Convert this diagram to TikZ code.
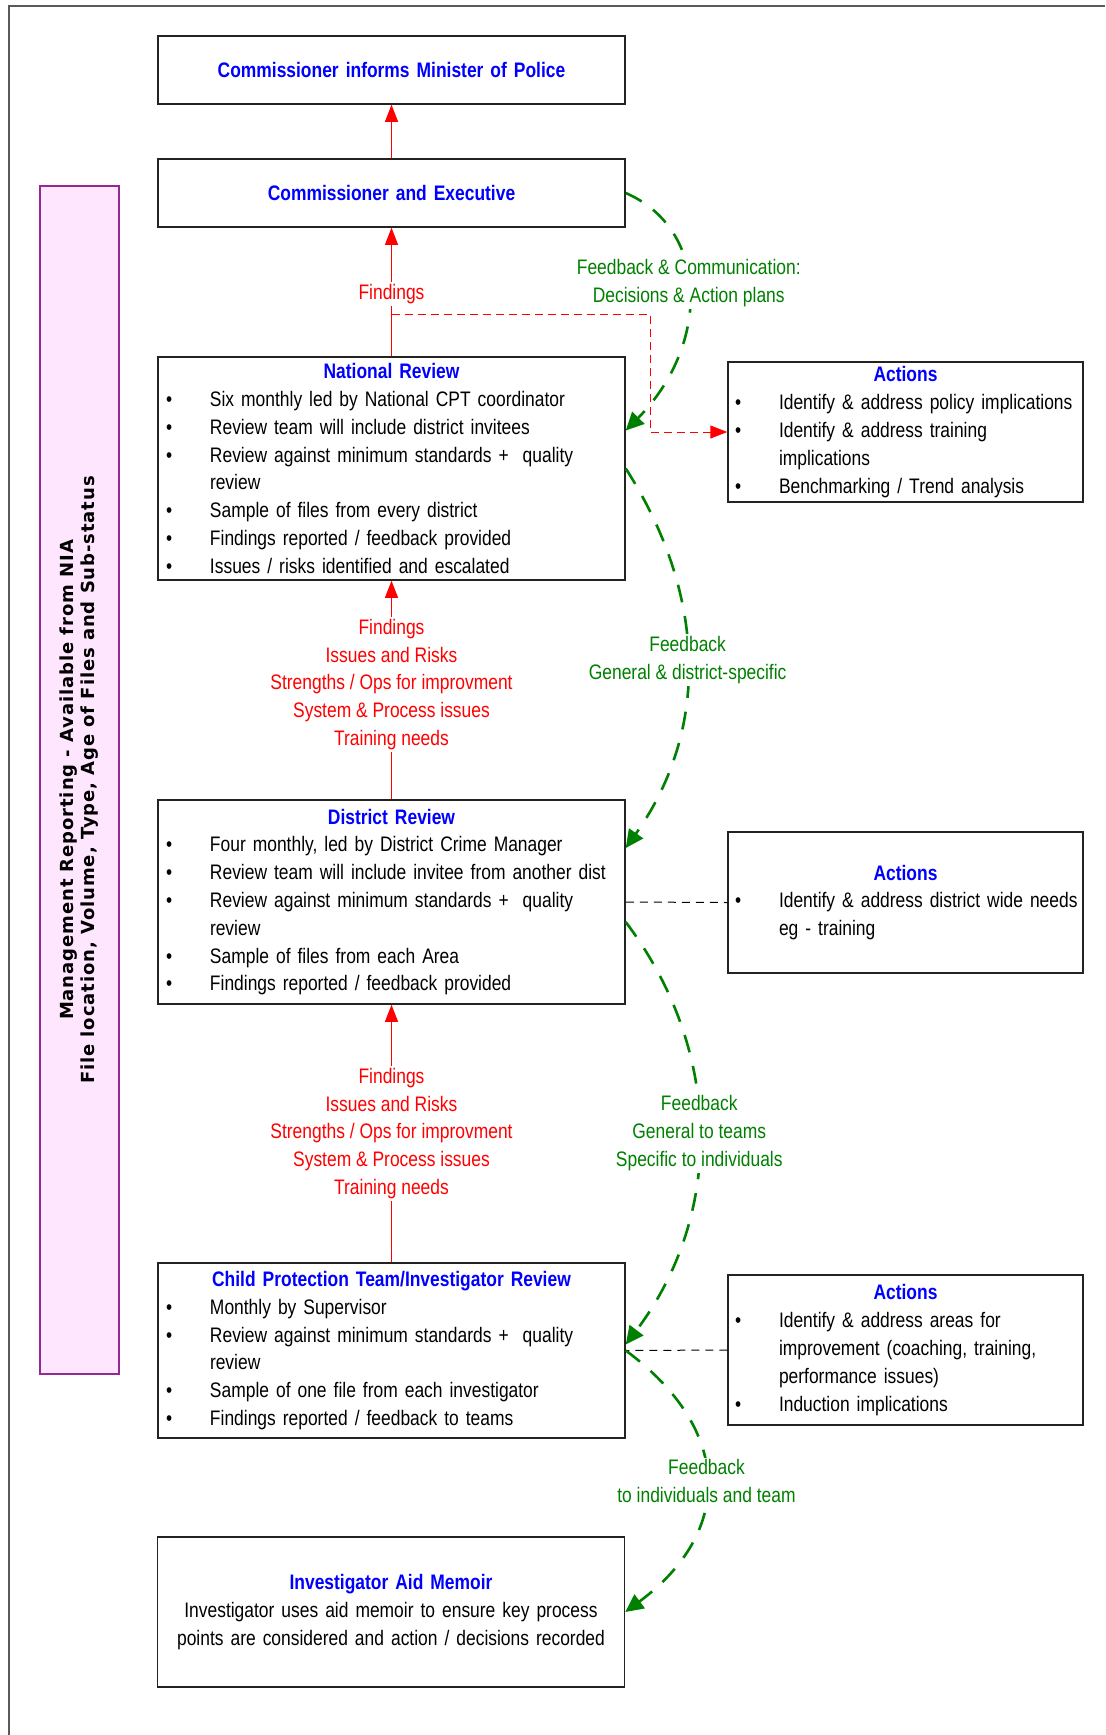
\documentclass[tikz,border=0pt]{standalone}
\usepackage{fontspec}
\setmainfont{Liberation Sans}[FakeStretch=0.83]
\newfontfamily\sidefont{DejaVu Sans}[LetterSpace=5]
\usetikzlibrary{arrows.meta,calc}

\definecolor{hdblue}{RGB}{0,0,255}
\definecolor{findred}{RGB}{255,0,0}
\definecolor{fbgreen}{RGB}{0,128,0}
\definecolor{sidepink}{RGB}{255,230,255}
\definecolor{sidepurple}{RGB}{150,40,150}
\definecolor{boxline}{RGB}{35,35,35}
\definecolor{framegray}{RGB}{90,90,90}

\newcommand{\boxhead}[1]{\makebox[\hsize][c]{\bfseries\color{hdblue}#1}}
\newcommand{\bul}[1]{\makebox[22pt][l]{\textbullet}\mbox{#1}}
\newcommand{\cont}[1]{\hspace*{22pt}\mbox{#1}}

\tikzset{
  txt/.style={font=\fontsize{10.5pt}{13.9pt}\selectfont},
  revbox/.style={txt, draw=boxline, line width=0.75pt, fill=white, inner xsep=4pt, inner ysep=0pt, text width=225.5pt, align=left},
  actbox/.style={revbox, inner xsep=3.5pt, text width=170.5pt},
  topbox/.style={revbox, align=center, text=hdblue, font=\fontsize{10.5pt}{13.9pt}\selectfont\bfseries},
  sidebox/.style={draw=sidepurple, line width=0.6pt, fill=sidepink, rotate=90, minimum width=594pt, minimum height=39.5pt, inner sep=0pt, align=center, font=\sidefont\bfseries\fontsize{9pt}{10.5pt}\selectfont},
  findlbl/.style={txt, text=findred, fill=white, inner sep=1pt, align=center},
  fblabel/.style={txt, text=fbgreen, fill=white, inner sep=1pt, align=center},
  redarr/.style={draw=findred, line width=0.5pt, -{Triangle[length=8.5pt,width=6.5pt]}},
  reddash/.style={redarr, dash pattern=on 4pt off 2.5pt},
  blkdash/.style={draw=black, line width=0.5pt, dash pattern=on 4pt off 3pt},
  fbarr/.style={draw=fbgreen, line width=1.3pt, dash pattern=on 9pt off 7pt, -{Triangle[length=9pt,width=8.5pt]}}
}

\begin{document}
\begin{tikzpicture}[x=0.5pt,y=0.5pt,yscale=-1,xscale=1]
\useasboundingbox (0,0) rectangle (1105,1735);
%Straight Lines: outer frame
\draw[framegray, line width=0.6pt] (9,1735) -- (9,6) -- (1105,6);

%Shape: Rectangle, side note
\node[sidebox] (mgmt) at (79.5,780) {Management Reporting - Available from NIA\\File location, Volume, Type, Age of Files and Sub-status};

%Shape: Rectangle
\node[topbox, minimum height=34pt] (cmin) at (391.5,70) {Commissioner informs Minister of Police};
%Shape: Rectangle
\node[topbox, minimum height=34pt] (cexec) at (391.5,193) {Commissioner and Executive};
%Shape: Rectangle
\node[revbox, minimum height=111.5pt] (natrev) at (391.5,468.5) {\boxhead{National Review}\\
\bul{Six monthly led by National CPT coordinator}\\
\bul{Review team will include district invitees}\\
\bul{Review against minimum standards +\ \ quality}\\
\cont{review}\\
\bul{Sample of files from every district}\\
\bul{Findings reported / feedback provided}\\
\bul{Issues / risks identified and escalated}};
%Shape: Rectangle
\node[revbox, minimum height=102pt] (distrev) at (391.5,902) {\boxhead{District Review}\\
\bul{Four monthly, led by District Crime Manager}\\
\bul{Review team will include invitee from another dist}\\
\bul{Review against minimum standards +\ \ quality}\\
\cont{review}\\
\bul{Sample of files from each Area}\\
\bul{Findings reported / feedback provided}};
%Shape: Rectangle
\node[revbox, minimum height=87.5pt] (cptrev) at (391.5,1350.5) {\boxhead{Child Protection Team/Investigator Review}\\
\bul{Monthly by Supervisor}\\
\bul{Review against minimum standards +\ \ quality}\\
\cont{review}\\
\bul{Sample of one file from each investigator}\\
\bul{Findings reported / feedback to teams}};
%Shape: Rectangle
\node[revbox, align=center, minimum height=75pt] (aidmem) at (391,1612) {\boxhead{Investigator Aid Memoir}\\
Investigator uses aid memoir to ensure key process\\
points are considered and action / decisions recorded};

%Shape: Rectangle, actions
\node[actbox, minimum height=70pt] (natact) at (905.5,432) {\boxhead{Actions}\\
\bul{Identify \& address policy implications}\\
\bul{Identify \& address training}\\
\cont{implications}\\
\bul{Benchmarking / Trend analysis}};
%Shape: Rectangle, actions
\node[actbox, minimum height=70.5pt] (distact) at (905.5,902.5) {\boxhead{Actions}\\
\bul{Identify \& address district wide needs}\\
\cont{eg - training}};
%Shape: Rectangle, actions
\node[actbox, minimum height=75pt] (cptact) at (905.5,1350) {\boxhead{Actions}\\
\bul{Identify \& address areas for}\\
\cont{improvement (coaching, training,}\\
\cont{performance issues)}\\
\bul{Induction implications}};

%Straight Lines: findings upwards
\draw[redarr] (cexec.north) -- (cmin.south);
\draw[redarr] (natrev.north) -- node[findlbl, pos=0.485] {Findings} (cexec.south);
\coordinate (fork) at ($(natrev.north)+(0,-42)$);
\draw[reddash] (fork) -| ($(natact.west)+(-77,0)$) -- (natact.west);
\draw[redarr] (distrev.north) -- node[findlbl, pos=0.525] {Findings\\Issues and Risks\\Strengths / Ops for improvment\\System \& Process issues\\Training needs} (natrev.south);
\draw[redarr] (cptrev.north) -- node[findlbl, pos=0.5] {Findings\\Issues and Risks\\Strengths / Ops for improvment\\System \& Process issues\\Training needs} (distrev.south);

%Straight Lines: actions links
\draw[blkdash] (distrev.east) -- (distact.west);
\draw[blkdash] (cptact.west) -- (cptrev.east);

%Curve Lines: feedback downwards
\draw[fbarr] (cexec.east) .. controls +(85,37) and +(84,-85) .. ($(natrev.east)+(0,-38)$) node[fblabel, pos=0.46] {Feedback \& Communication:\\Decisions \& Action plans};
\draw[fbarr] (natrev.east) .. controls +(80,125) and +(85,-120) .. ($(distrev.east)+(0,-54)$) node[fblabel, pos=0.5] {Feedback\\General \& district-specific};
\draw[fbarr] ($(distrev.east)+(0,20)$) .. controls +(98,130) and +(98,-130) .. ($(cptrev.east)+(0,-6)$) node[fblabel, pos=0.5] {Feedback\\General to teams\\Specific to individuals};
\draw[fbarr] (cptrev.east) .. controls +(108,80) and +(108,-80) .. (aidmem.east) node[fblabel, pos=0.5] {Feedback\\to individuals and team};
\end{tikzpicture}
\end{document}
